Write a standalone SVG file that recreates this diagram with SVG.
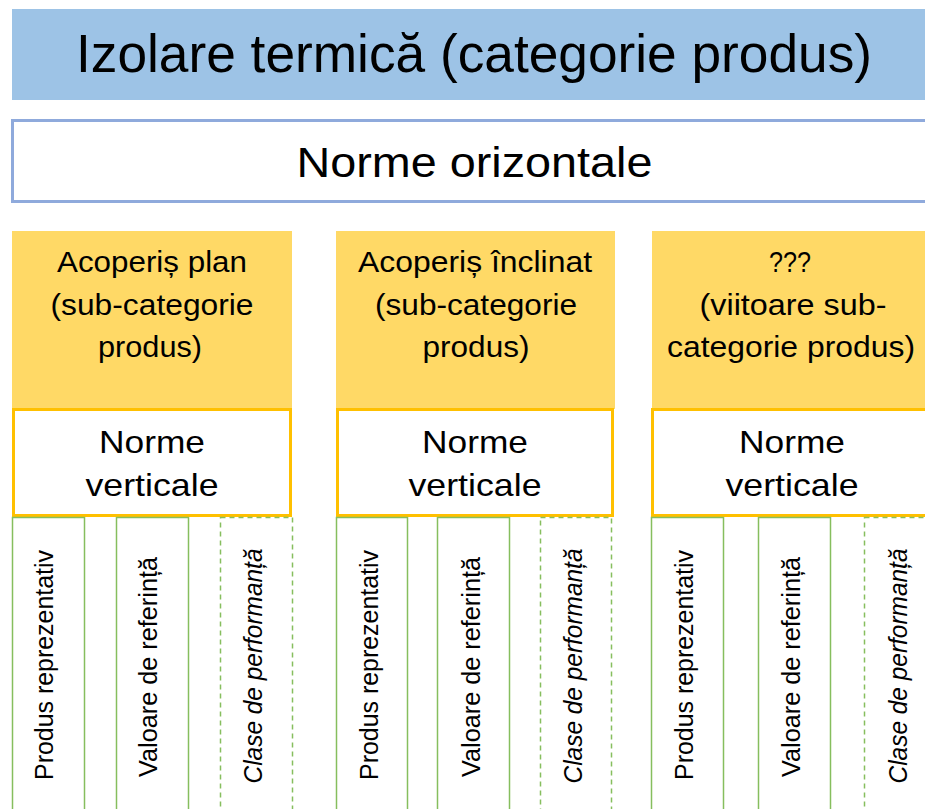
<svg xmlns="http://www.w3.org/2000/svg" width="925" height="809" viewBox="0 0 925 809">
<style>
text{font-family:"Liberation Sans",Arial,sans-serif;fill:#000;text-anchor:middle}
.title{font-size:54px}
.hz{font-size:43px}
.hdr{font-size:29px}
.nv{font-size:32px}
.vt{font-size:25px}
.it{font-style:italic}
.banner{fill:#9DC3E6}
.hbox{fill:#fff;stroke:#8FAADC;stroke-width:3}
.sub{fill:#FFD966}
.vbox{fill:#fff;stroke:#FFC000;stroke-width:3}
.g{fill:none;stroke:#86BE5E;stroke-width:1.5}
.gd{fill:none;stroke:#86BE5E;stroke-width:1.5;stroke-dasharray:5 4}
</style>
<g id="title">
<rect class="banner" x="12" y="9" width="920" height="91"/>
<text class="title" x="474" y="72" textLength="796" lengthAdjust="spacingAndGlyphs">Izolare termică (categorie produs)</text>
</g>
<g id="norme-orizontale">
<rect class="hbox" x="12.5" y="120.5" width="930" height="81"/>
<text class="hz" x="474.5" y="177" textLength="356" lengthAdjust="spacingAndGlyphs">Norme orizontale</text>
</g>
<g id="col1">
<rect class="sub" x="12" y="231" width="280" height="178"/>
<text class="hdr" x="152" y="272" textLength="190" lengthAdjust="spacingAndGlyphs">Acoperiș plan</text>
<text class="hdr" x="152" y="315" textLength="203" lengthAdjust="spacingAndGlyphs">(sub-categorie</text>
<text class="hdr" x="150" y="357" textLength="104" lengthAdjust="spacingAndGlyphs">produs)</text>
<g id="col1-nv">
<rect class="vbox" x="13.5" y="409.5" width="277" height="106"/>
<text class="nv" x="152" y="453" textLength="106" lengthAdjust="spacingAndGlyphs">Norme</text>
<text class="nv" x="152" y="496" textLength="133" lengthAdjust="spacingAndGlyphs">verticale</text>
</g>
<g id="col1-c1"><rect class="g" x="12.5" y="517.5" width="72" height="320"/>
<text class="vt" transform="translate(53 665) rotate(-90)" textLength="230" lengthAdjust="spacingAndGlyphs">Produs reprezentativ</text></g>
<g id="col1-c2"><rect class="g" x="116.5" y="517.5" width="72" height="320"/>
<text class="vt" transform="translate(157 667) rotate(-90)" textLength="220" lengthAdjust="spacingAndGlyphs">Valoare de referință</text></g>
<g id="col1-c3"><rect class="gd" x="220.5" y="517.5" width="72" height="320"/>
<text class="vt it" transform="translate(262 666) rotate(-90)" textLength="235" lengthAdjust="spacingAndGlyphs">Clase de performanță</text></g>
</g>
<g id="col2">
<rect class="sub" x="336" y="231" width="279" height="178"/>
<text class="hdr" x="475" y="272" textLength="234" lengthAdjust="spacingAndGlyphs">Acoperiș înclinat</text>
<text class="hdr" x="476" y="315" textLength="202" lengthAdjust="spacingAndGlyphs">(sub-categorie</text>
<text class="hdr" x="476" y="357" textLength="107" lengthAdjust="spacingAndGlyphs">produs)</text>
<g id="col2-nv">
<rect class="vbox" x="337.5" y="409.5" width="275" height="106"/>
<text class="nv" x="475" y="453" textLength="106" lengthAdjust="spacingAndGlyphs">Norme</text>
<text class="nv" x="475" y="496" textLength="133" lengthAdjust="spacingAndGlyphs">verticale</text>
</g>
<g id="col2-c1"><rect class="g" x="336.5" y="517.5" width="71" height="320"/>
<text class="vt" transform="translate(378 665) rotate(-90)" textLength="230" lengthAdjust="spacingAndGlyphs">Produs reprezentativ</text></g>
<g id="col2-c2"><rect class="g" x="437.5" y="517.5" width="72" height="320"/>
<text class="vt" transform="translate(480 667) rotate(-90)" textLength="220" lengthAdjust="spacingAndGlyphs">Valoare de referință</text></g>
<g id="col2-c3"><rect class="gd" x="540.5" y="517.5" width="71" height="320"/>
<text class="vt it" transform="translate(582 666) rotate(-90)" textLength="235" lengthAdjust="spacingAndGlyphs">Clase de performanță</text></g>
</g>
<g id="col3">
<rect class="sub" x="652" y="231" width="290" height="178"/>
<text class="hdr" x="790" y="272" textLength="42" lengthAdjust="spacingAndGlyphs">???</text>
<text class="hdr" x="793" y="315" textLength="187" lengthAdjust="spacingAndGlyphs">(viitoare sub-</text>
<text class="hdr" x="791" y="357" textLength="248" lengthAdjust="spacingAndGlyphs">categorie produs)</text>
<g id="col3-nv">
<rect class="vbox" x="652.5" y="409.5" width="290" height="106"/>
<text class="nv" x="792" y="453" textLength="106" lengthAdjust="spacingAndGlyphs">Norme</text>
<text class="nv" x="792" y="496" textLength="133" lengthAdjust="spacingAndGlyphs">verticale</text>
</g>
<g id="col3-c1"><rect class="g" x="651.5" y="517.5" width="72" height="320"/>
<text class="vt" transform="translate(693 665) rotate(-90)" textLength="230" lengthAdjust="spacingAndGlyphs">Produs reprezentativ</text></g>
<g id="col3-c2"><rect class="g" x="758.5" y="517.5" width="72" height="320"/>
<text class="vt" transform="translate(800 667) rotate(-90)" textLength="220" lengthAdjust="spacingAndGlyphs">Valoare de referință</text></g>
<g id="col3-c3"><rect class="gd" x="864.5" y="517.5" width="72" height="320"/>
<text class="vt it" transform="translate(907 666) rotate(-90)" textLength="235" lengthAdjust="spacingAndGlyphs">Clase de performanță</text></g>
</g>
<g id="connectors"/>
</svg>
